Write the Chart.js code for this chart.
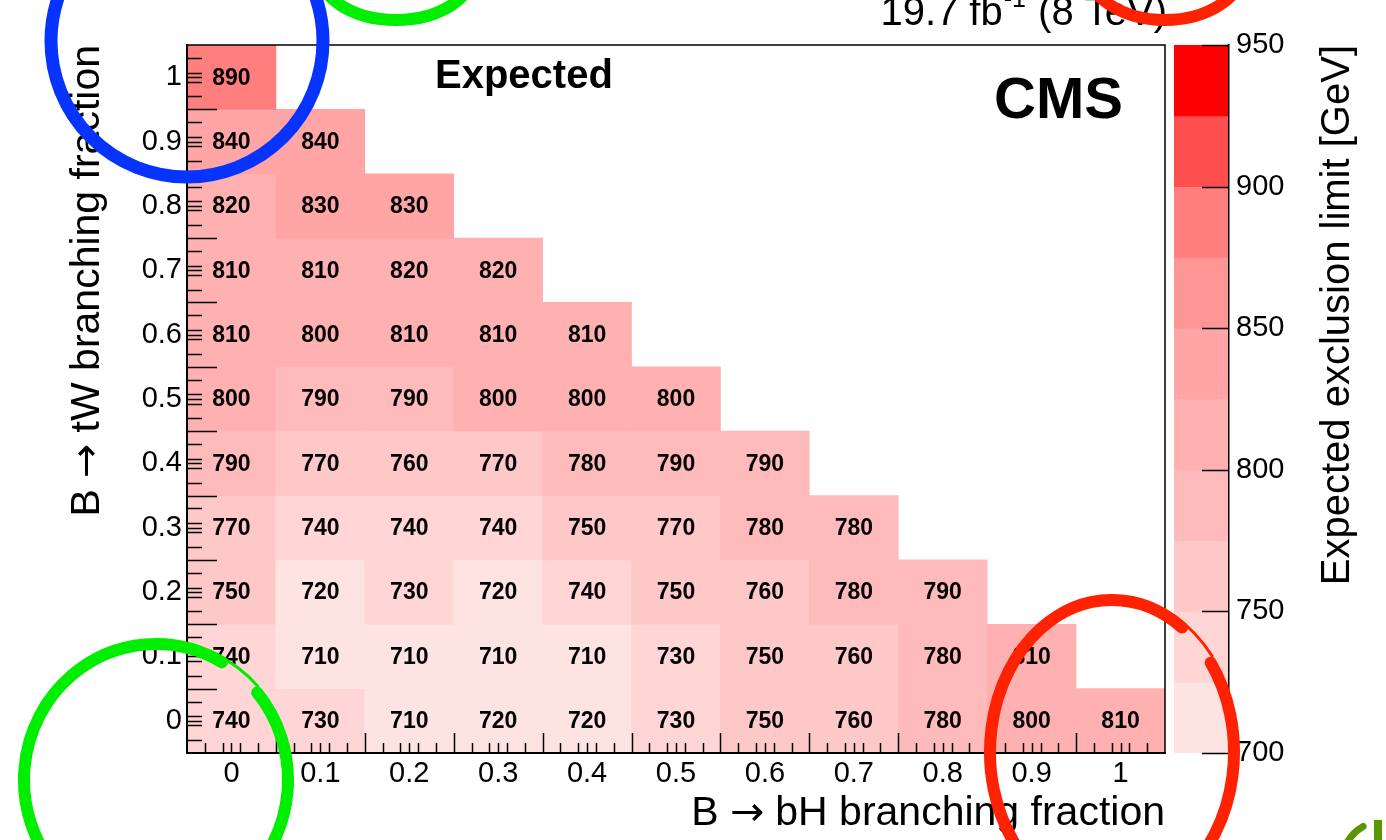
<!DOCTYPE html>
<html>
<head>
<meta charset="utf-8">
<script src="https://cdn.jsdelivr.net/npm/chart.js@4.4.1/dist/chart.umd.min.js"></script>
<style>
  @font-face { font-family: 'ArrowSym'; src: local('DejaVu Sans'), local('DejaVuSans'); unicode-range: U+2192; }
  html, body { margin: 0; padding: 0; background: #fff; }
  #wrap { position: relative; width: 1386px; height: 840px; overflow: hidden; }
  #zbar { position: absolute; left: 1165px; top: 0; }
  #main { position: absolute; left: 0; top: 0; }
</style>
</head>
<body>
<div id="wrap">
  <canvas id="zbar" width="221" height="840"></canvas>
  <canvas id="main" width="1386" height="840"></canvas>
</div>
<script>
const bhFractions = [0, 0.1, 0.2, 0.3, 0.4, 0.5, 0.6, 0.7, 0.8, 0.9, 1];
const twFractions = [0, 0.1, 0.2, 0.3, 0.4, 0.5, 0.6, 0.7, 0.8, 0.9, 1];

// expected limit [GeV], one list per B->tW value, indexed by B->bH
const limitsTW00 = [740, 730, 710, 720, 720, 730, 750, 760, 780, 800, 810];
const limitsTW01 = [740, 710, 710, 710, 710, 730, 750, 760, 780, 810];
const limitsTW02 = [750, 720, 730, 720, 740, 750, 760, 780, 790];
const limitsTW03 = [770, 740, 740, 740, 750, 770, 780, 780];
const limitsTW04 = [790, 770, 760, 770, 780, 790, 790];
const limitsTW05 = [800, 790, 790, 800, 800, 800];
const limitsTW06 = [810, 800, 810, 810, 810];
const limitsTW07 = [810, 810, 820, 820];
const limitsTW08 = [820, 830, 830];
const limitsTW09 = [840, 840];
const limitsTW10 = [890];
const limitRows = [limitsTW00, limitsTW01, limitsTW02, limitsTW03, limitsTW04, limitsTW05,
  limitsTW06, limitsTW07, limitsTW08, limitsTW09, limitsTW10];

const zTicks = [700, 750, 800, 850, 900, 950];
const zEdges = [700, 725, 750, 775, 800, 825, 850, 875, 900, 925, 950];

const palette = ['#FEE3E3', '#FFD5D5', '#FFC8C8', '#FFBBBB', '#FFB1B1',
  '#FFA5A5', '#FF9696', '#FF7E7E', '#FF4E4E', '#FF0000'];

const FONT = '"ArrowSym", "Liberation Sans", Arial, Helvetica, sans-serif';

function colorFor(v) {
  let i = zEdges.findIndex((e, k) => k < zEdges.length - 1 && v >= e && v < zEdges[k + 1]);
  if (i < 0) i = v < zEdges[0] ? 0 : palette.length - 1;
  return palette[i];
}

const fmtFraction = v => String(Math.round(v * 10) / 10);

const cells = [];
limitRows.forEach((row, j) => {
  row.forEach((v, i) => {
    cells.push({ x: bhFractions[i], y: [twFractions[j] - 0.05, twFractions[j] + 0.05], z: v });
  });
});

// ROOT-like frame and inward tick marks
const rootAxes = {
  id: 'rootAxes',
  afterDraw(chart) {
    const { ctx, chartArea: a, scales: { x, y } } = chart;
    ctx.save();
    ctx.strokeStyle = '#000';
    ctx.lineWidth = 1.5;
    ctx.beginPath();
    ctx.moveTo(a.left, a.top);
    ctx.lineTo(a.right, a.top);
    ctx.lineTo(a.right, a.bottom);
    ctx.stroke();

    ctx.beginPath();
    bhFractions.forEach(c => {
      if (c < 1) {
        const b = Math.round(x.getPixelForValue(c + 0.05)) + 0.5;
        ctx.moveTo(b, a.bottom); ctx.lineTo(b, a.bottom - 20);
      }
      [-0.03, -0.01, 0, 0.01, 0.03].forEach(d => {
        const p = Math.round(x.getPixelForValue(c + d)) + 0.5;
        ctx.moveTo(p, a.bottom); ctx.lineTo(p, a.bottom - 10);
      });
    });
    twFractions.forEach(c => {
      if (c < 1) {
        const b = Math.round(y.getPixelForValue(c + 0.05)) + 0.5;
        ctx.moveTo(a.left, b); ctx.lineTo(a.left + 30, b);
      }
      [-0.03, -0.007, 0, 0.007, 0.03].forEach(d => {
        const p = Math.round(y.getPixelForValue(c + d)) + 0.5;
        ctx.moveTo(a.left, p); ctx.lineTo(a.left + 15, p);
      });
    });
    ctx.stroke();
    ctx.restore();
  }
};

const cellText = {
  id: 'cellText',
  afterDatasetsDraw(chart) {
    const ctx = chart.ctx;
    const meta = chart.getDatasetMeta(0);
    ctx.save();
    ctx.font = 'bold 23px ' + FONT;
    ctx.fillStyle = '#000';
    ctx.textAlign = 'center';
    ctx.textBaseline = 'middle';
    meta.data.forEach((el, i) => {
      const { x, y, base } = el.getProps(['x', 'y', 'base'], true);
      ctx.fillText(String(cells[i].z), x, (y + base) / 2 + 1);
    });
    ctx.restore();
  }
};

const headerText = {
  id: 'headerText',
  afterDraw(chart) {
    const { ctx, chartArea: a } = chart;
    ctx.save();
    ctx.fillStyle = '#000';
    ctx.textBaseline = 'middle';
    ctx.textAlign = 'left';
    ctx.font = 'bold 40px ' + FONT;
    ctx.fillText('Expected', 435, 77);
    ctx.textAlign = 'right';
    ctx.font = 'bold 58px ' + FONT;
    ctx.fillText('CMS', 1123, 102);

    // luminosity label, cut by the top edge like the original
    ctx.textBaseline = 'alphabetic';
    ctx.textAlign = 'left';
    const big = '40px ' + FONT, small = '25px ' + FONT;
    ctx.font = big;
    const w1 = ctx.measureText('19.7 fb').width;
    const w3 = ctx.measureText(' (8 TeV)').width;
    ctx.font = small;
    const w2 = ctx.measureText('-1').width;
    const x0 = a.right - w1 - w2 - w3;
    ctx.font = big;
    ctx.fillText('19.7 fb', x0, 25);
    ctx.font = small;
    ctx.fillText('-1', x0 + w1 + 1, 7);
    ctx.font = big;
    ctx.fillText(' (8 TeV)', x0 + w1 + w2 + 2, 25);
    ctx.restore();
  }
};

// hand-drawn circles on top of the picture
const marks = {
  id: 'marks',
  afterDraw(chart) {
    const ctx = chart.ctx;
    const ring = (cx, cy, rx, ry, a0, a1, color, w) => {
      ctx.beginPath();
      ctx.ellipse(cx, cy, rx, ry, 0, a0 * Math.PI / 180, a1 * Math.PI / 180);
      ctx.strokeStyle = color;
      ctx.lineWidth = w;
      ctx.stroke();
    };
    ctx.save();
    ctx.lineCap = 'round';
    ring(187, 41, 136, 136, 0, 360, '#0733FF', 13);
    ring(396, -30, 78, 50, 0, 180, '#00EE00', 12);
    ring(1165, -35, 80, 55, 0, 180, '#FF2200', 12);
    ring(156, 780, 132, 136, -40, 300, '#00EE00', 12);
    ring(156, 780, 137, 140, 296, 318, '#00EE00', 3);
    ring(1112, 752, 122, 152, -36, 305, '#FF2200', 12);
    ring(1112, 752, 127, 156, 300, 322, '#FF2200', 3);
    // corner of a logo at the bottom right
    ring(1380, 870, 40, 48, 200, 245, '#5A9600', 7);
    ctx.fillStyle = '#5A9600';
    ctx.fillRect(1374, 820, 8, 20);
    ctx.restore();
  }
};

// colour scale ticks and title
const zAxisDecor = {
  id: 'zAxisDecor',
  afterDraw(chart) {
    const { ctx, chartArea: a, scales: { y } } = chart;
    ctx.save();
    ctx.strokeStyle = '#000';
    ctx.lineWidth = 1.5;
    ctx.beginPath();
    zTicks.forEach(v => {
      const p = Math.round(y.getPixelForValue(v)) + 0.5;
      ctx.moveTo(a.right - 27, p);
      ctx.lineTo(a.right, p);
    });
    ctx.stroke();
    ctx.translate(173, a.top);
    ctx.rotate(-Math.PI / 2);
    ctx.fillStyle = '#000';
    ctx.font = '40px ' + FONT;
    ctx.textAlign = 'right';
    ctx.textBaseline = 'middle';
    ctx.fillText('Expected exclusion limit [GeV]', 0, 0);
    ctx.restore();
  }
};

function draw() {
  new Chart(document.getElementById('zbar'), {
    type: 'bar',
    data: {
      labels: ['z'],
      datasets: [{
        data: zEdges.slice(0, -1).map((lo, i) => ({ x: 'z', y: [lo, zEdges[i + 1]] })),
        backgroundColor: palette,
        borderWidth: 0,
        categoryPercentage: 1,
        barPercentage: 1
      }]
    },
    options: {
      responsive: false,
      animation: false,
      layout: { padding: { top: 45, right: 0, left: 9, bottom: 87 } },
      plugins: { legend: { display: false }, tooltip: { enabled: false } },
      scales: {
        x: { display: false },
        y: {
          position: 'right',
          min: 700,
          max: 950,
          afterBuildTicks: s => { s.ticks = zTicks.map(v => ({ value: v })); },
          afterFit: s => { s.width = 157; },
          grid: { display: false, drawTicks: false },
          border: { display: true, color: '#000', width: 1.5, z: 1 },
          ticks: { color: '#000', font: { family: FONT, size: 29 }, padding: 7 }
        }
      }
    },
    plugins: [zAxisDecor]
  });

  new Chart(document.getElementById('main'), {
    type: 'bar',
    data: {
      datasets: [{
        data: cells,
        backgroundColor: c => colorFor(c.raw ? c.raw.z : 700),
        borderWidth: 0,
        categoryPercentage: 1,
        barPercentage: 1
      }]
    },
    options: {
      responsive: false,
      animation: false,
      layout: { padding: { top: 45, right: 221, left: 0, bottom: 0 } },
      plugins: { legend: { display: false }, tooltip: { enabled: false } },
      scales: {
        x: {
          type: 'linear',
          min: -0.05,
          max: 1.05,
          offset: false,
          afterBuildTicks: s => { s.ticks = bhFractions.map(v => ({ value: v })); },
          afterFit: s => { s.height = 87; },
          grid: { display: false, drawTicks: false, offset: false },
          border: { display: true, color: '#000', width: 2, z: 1 },
          ticks: {
            color: '#000', font: { family: FONT, size: 29 }, padding: 4,
            maxRotation: 0, autoSkip: false, callback: v => fmtFraction(v)
          },
          title: {
            display: true, text: 'B \u2192 bH branching fraction', align: 'end',
            color: '#000', font: { family: FONT, size: 41 }, padding: { top: 0, bottom: 2 }
          }
        },
        y: {
          type: 'linear',
          min: -0.05,
          max: 1.05,
          afterBuildTicks: s => { s.ticks = twFractions.map(v => ({ value: v })); },
          afterFit: s => { s.width = 187; },
          grid: { display: false, drawTicks: false },
          border: { display: true, color: '#000', width: 2, z: 1 },
          ticks: {
            color: '#000', font: { family: FONT, size: 29 }, padding: 5,
            autoSkip: false, callback: v => fmtFraction(v)
          },
          title: {
            display: true, text: 'B \u2192 tW branching fraction', align: 'end',
            color: '#000', font: { family: FONT, size: 41 }, padding: { top: 63, bottom: 0 }
          }
        }
      }
    },
    plugins: [cellText, rootAxes, headerText, marks]
  });
}

document.fonts.load('40px ArrowSym', '\u2192').then(draw, draw);
</script>
</body>
</html>
